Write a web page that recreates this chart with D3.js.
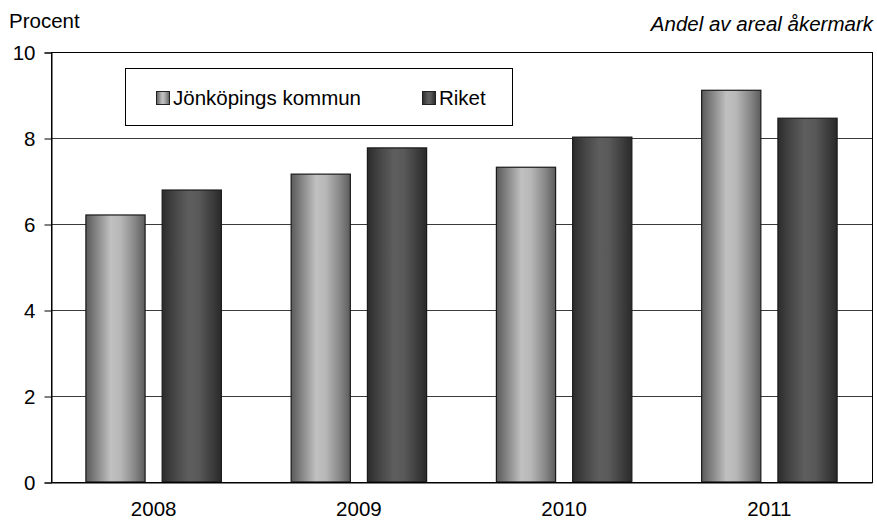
<!DOCTYPE html>
<html>
<head>
<meta charset="utf-8">
<script src="https://cdn.jsdelivr.net/npm/d3@7"></script>
<style>
  body { margin: 0; background: #fff; }
  svg { display: block; font-family: "Liberation Sans", Arial, sans-serif; }
</style>
</head>
<body>
<svg id="chart" width="877" height="520"></svg>
<script>
const years = ["2008", "2009", "2010", "2011"];
const seriesNames = ["Jönköpings kommun", "Riket"];
const jonkoping = [6.21, 7.16, 7.32, 9.11];
const riket = [6.79, 7.77, 8.02, 8.46];
const yTicks = [0, 2, 4, 6, 8, 10];
const yLabel = "Procent";
const subtitle = "Andel av areal åkermark";

(function () {
const svg = d3.select("#chart");
const pL = 51, pR = 872, pT = 52, pB = 482;
const fs = 20.5;

const x = d3.scaleBand().domain(years).range([pL, pR]).paddingInner(0.34).paddingOuter(0.17);
const xs = d3.scaleBand().domain(seriesNames).range([0, x.bandwidth()]).paddingInner(0.2237);
const y = d3.scaleLinear().domain([0, 10]).range([pB, pT]);

const defs = svg.append("defs");
function grad(id, stops) {
  const g = defs.append("linearGradient").attr("id", id).attr("x1", "0%").attr("x2", "100%").attr("y1", "0%").attr("y2", "0%");
  stops.forEach(s => g.append("stop").attr("offset", s[0]).attr("stop-color", s[1]));
}
grad("gJ", [["0%", "#5a5a5a"], ["20%", "#8a8a8a"], ["42%", "#c0c0c0"], ["58%", "#b8b8b8"], ["82%", "#888888"], ["100%", "#5c5c5c"]]);
grad("gR", [["0%", "#2c2c2c"], ["22%", "#474747"], ["45%", "#5e5e5e"], ["62%", "#595959"], ["85%", "#3c3c3c"], ["100%", "#2a2a2a"]]);
const fills = { "Jönköpings kommun": "url(#gJ)", "Riket": "url(#gR)" };

// gridlines
svg.append("g").selectAll("line").data(yTicks.filter(t => t > 0 && t < 10)).join("line")
  .attr("x1", pL).attr("x2", pR)
  .attr("y1", d => y(d) + 0.5).attr("y2", d => y(d) + 0.5)
  .attr("stroke", "#3a3a3a").attr("stroke-width", 1);

// bars
const data = [];
years.forEach((yr, i) => {
  data.push({ year: yr, s: seriesNames[0], v: jonkoping[i] });
  data.push({ year: yr, s: seriesNames[1], v: riket[i] });
});
svg.append("g").selectAll("rect").data(data).join("rect")
  .attr("x", d => x(d.year) + xs(d.s))
  .attr("y", d => y(d.v))
  .attr("width", xs.bandwidth())
  .attr("height", d => y(0) - y(d.v))
  .attr("fill", d => fills[d.s])
  .attr("stroke", "#1a1a1a").attr("stroke-width", 1.2);

// plot frame
svg.append("rect").attr("x", pL + 0.5).attr("y", pT + 0.5)
  .attr("width", pR - pL).attr("height", pB - pT)
  .attr("fill", "none").attr("stroke", "#000").attr("stroke-width", 1);

// y axis
const yAxis = d3.axisLeft(y).tickValues(yTicks).tickSize(7).tickPadding(9).tickFormat(d3.format("d"));
const ya = svg.append("g").attr("transform", `translate(${pL + 0.5},0.5)`).call(yAxis);
ya.select(".domain").attr("stroke", "#000");
ya.selectAll(".tick line").attr("stroke", "#000");
ya.selectAll("text").attr("font-size", fs).attr("fill", "#000").attr("font-family", "Liberation Sans, Arial, sans-serif");

// x axis
const xAxis = d3.axisBottom(x).tickSize(0).tickPadding(19);
const xa = svg.append("g").attr("transform", `translate(0,${pB + 0.5})`).call(xAxis);
xa.select(".domain").attr("stroke", "#000");
xa.selectAll("text").attr("font-size", fs).attr("fill", "#000").attr("font-family", "Liberation Sans, Arial, sans-serif");

// titles
svg.append("text").attr("x", 9).attr("y", 28).attr("font-size", fs).attr("fill", "#000").text(yLabel);
svg.append("text").attr("x", 873).attr("y", 31).attr("text-anchor", "end").attr("font-size", fs)
  .attr("font-style", "italic").attr("fill", "#000").text(subtitle);

// legend
const lg = svg.append("g");
lg.append("rect").attr("x", 125.5).attr("y", 68.5).attr("width", 387).attr("height", 57)
  .attr("fill", "#fff").attr("stroke", "#000").attr("stroke-width", 1);
const legendX = [156, 422];
seriesNames.forEach((s, i) => {
  lg.append("rect").attr("x", legendX[i] + 0.5).attr("y", 91.5).attr("width", 13).attr("height", 13)
    .attr("fill", fills[s]).attr("stroke", "#222").attr("stroke-width", 1);
  lg.append("text").attr("x", legendX[i] + 17).attr("y", 105).attr("font-size", fs).attr("fill", "#000").text(s);
});
})();
</script>
</body>
</html>
